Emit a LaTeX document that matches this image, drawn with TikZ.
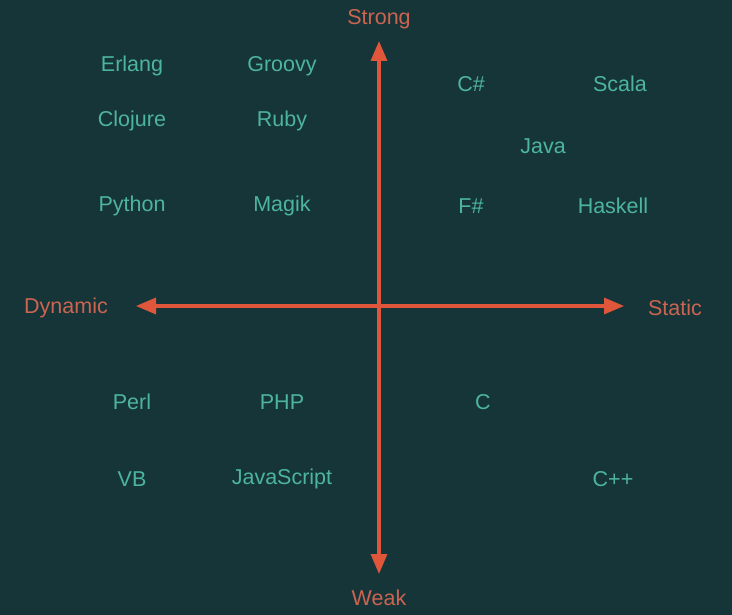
\documentclass[tikz,border=0pt]{standalone}
\usepackage{fontspec}
\setmainfont{Liberation Sans}
\usetikzlibrary{calc,arrows.meta}

\definecolor{bgteal}{HTML}{163538}
\definecolor{langteal}{HTML}{4DB59E}
\definecolor{axisred}{HTML}{E0563B}
\definecolor{labelred}{HTML}{CC6452}

\begin{document}
\begin{tikzpicture}[x=1pt,y=-1pt,
		lang/.style={text=langteal,font=\fontsize{21.5}{25}\selectfont,inner sep=0pt},
		axlabel/.style={text=labelred,font=\fontsize{21.5}{25}\selectfont,inner sep=0pt},
		axis/.style={draw=axisred,line width=3.2pt,{Triangle[length=20pt,width=16pt]}-{Triangle[length=20pt,width=16pt]}}]
	\fill[bgteal] (0,0) rectangle (732,615);
	\useasboundingbox (0,0) rectangle (732,615);
	%achsen
	\coordinate (top) at (379,41);
	\coordinate (bottom) at (379,574);
	\coordinate (left) at (136,306);
	\coordinate (right) at (624,306);
	\draw[axis] (bottom) -- (top);
	\draw[axis] (left) -- (right);
	\node[axlabel] (strong) at (379,19) {Strong};
	\node[axlabel] (weak) at (379,598) {Weak};
	\node[axlabel] (dynamic) at (66,308) {Dynamic};
	\node[axlabel] (static) at (675,308) {Static};
	%sprachen
	\node[lang] (erlang) at (132,66) {Erlang};
	\node[lang] (groovy) at (282,66) {Groovy};
	\node[lang] (clojure) at (132,121) {Clojure};
	\node[lang] (ruby) at (282,121) {Ruby};
	\node[lang] (python) at (132,206) {Python};
	\node[lang] (magik) at (282,206) {Magik};
	\node[lang] (csharp) at (471,84) {C\#};
	\node[lang] (scala) at (620,84) {Scala};
	\node[lang] (java) at (543,146) {Java};
	\node[lang] (fsharp) at (471,206) {F\#};
	\node[lang] (haskell) at (613,206) {Haskell};
	\node[lang] (perl) at (132,402) {Perl};
	\node[lang] (php) at (282,402) {PHP};
	\node[lang] (c) at (483,402) {C};
	\node[lang] (vb) at (132,479) {VB};
	\node[lang] (javascript) at (282,479) {JavaScript};
	\node[lang] (cpp) at (613,479) {C++};
\end{tikzpicture}
\end{document}
